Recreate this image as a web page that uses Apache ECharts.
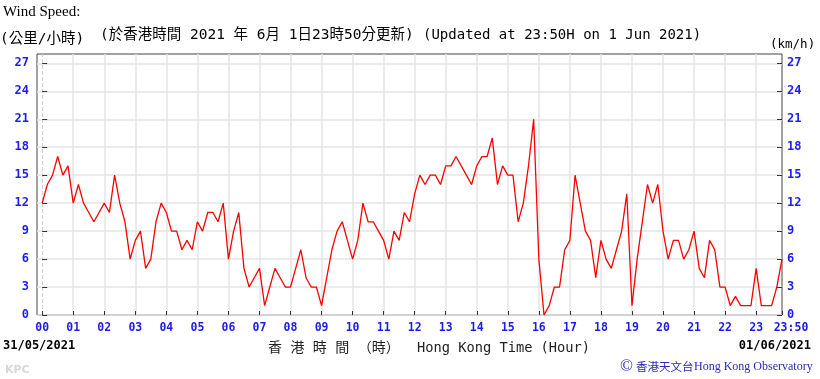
<!DOCTYPE html>
<html><head><meta charset="utf-8">
<script src="https://cdn.jsdelivr.net/npm/echarts@6/dist/echarts.min.js"></script>
<style>html,body{margin:0;padding:0;background:#fff}#c{width:820px;height:379px}</style>
</head><body><div id="c"></div>
<script>
// time of each reading, minutes after 00:00 HKT on 31/05/2021
const times = [
  0,10,20,30,40,50,60,70,80,90,100,110,120,130,140,150,160,170,180,190,200,210,220,230,
  240,250,260,270,280,290,300,310,320,330,340,350,360,370,380,390,400,410,420,430,440,450,460,470,
  480,490,500,510,520,530,540,550,560,570,580,590,600,610,620,630,640,650,660,670,680,690,700,710,
  720,730,740,750,760,770,780,790,800,810,820,830,840,850,860,870,880,890,900,910,920,930,940,950,
  960,970,980,990,1000,1010,1020,1030,1040,1050,1060,1070,1080,1090,1100,1110,1120,1130,1140,1150,1160,1170,1180,1190,
  1200,1210,1220,1230,1240,1250,1260,1270,1280,1290,1300,1310,1320,1330,1340,1350,1360,1370,1380,1390,1400,1410,1420,1430
];
// wind speed (km/h)
const speeds = [
  12,14,15,17,15,16,12,14,12,11,10,11,12,11,15,12,10,6,8,9,5,6,10,12,
  11,9,9,7,8,7,10,9,11,11,10,12,6,9,11,5,3,4,5,1,3,5,4,3,
  3,5,7,4,3,3,1,4,7,9,10,8,6,8,12,10,10,9,8,6,9,8,11,10,
  13,15,14,15,15,14,16,16,17,16,15,14,16,17,17,19,14,16,15,15,10,12,16,21,
  6,0,1,3,3,7,8,15,12,9,8,4,8,6,5,7,9,13,1,6,10,14,12,14,
  9,6,8,8,6,7,9,5,4,8,7,3,3,1,2,1,1,1,5,1,1,1,3,6
];
// x-axis tick positions (minutes) and labels
const xTickValues = [0,60,120,180,240,300,360,420,480,540,600,660,720,780,840,900,960,1020,1080,1140,1200,1260,1320,1380,1430];
const xTickLabels = ['00','01','02','03','04','05','06','07','08','09','10','11','12','13','14','15','16','17','18','19','20','21','22','23','23:50'];
// y-axis ticks
const yTickValues = [0,3,6,9,12,15,18,21,24,27];

const BLUE = '#1c1cf0';
const GRID = '#e4e4e4';
const MONO = '"DejaVu Sans Mono", "Noto Sans CJK TC", monospace';
const chart = echarts.init(document.getElementById('c'), null, {renderer:'canvas'});

const xLabelMap = {};
xTickValues.forEach((v,i)=>{ xLabelMap[v] = xTickLabels[i]; });
// vertical grid lines at the hour ticks: dashed at 00, solid elsewhere (last one sits on the frame)
const vGrid = xTickValues.slice(1, -1).map(v => ({xAxis:v}));

const yAxisBase = (pos, margin, split) => ({
  type:'value', position:pos, min:0, max:28,
  axisLine:{show:false},
  axisTick:{show:true, inside:true, length:5, customValues:yTickValues, lineStyle:{color:'#333', width:1}},
  axisLabel:{customValues:yTickValues, color:BLUE, fontWeight:'bold', fontFamily:MONO, fontSize:12, margin:margin},
  splitLine:{show:split, lineStyle:{color:GRID, width:1.5}}
});

chart.setOption({
  animation:false,
  grid:{left:37, right:38, top:54, bottom:64, show:true, borderColor:'#444', borderWidth:1, backgroundColor:'transparent'},
  xAxis:{
    type:'value', min:-10, max:1430, position:'bottom',
    axisLine:{show:false},
    axisTick:{show:true, inside:true, length:4, customValues:xTickValues, lineStyle:{color:'#333', width:1}},
    axisLabel:{
      customValues:xTickValues, color:BLUE, fontWeight:'bold', fontFamily:MONO, fontSize:11.5, margin:7,
      formatter:(v)=> v===1430 ? '{e|'+xLabelMap[v]+'}' : xLabelMap[v],
      rich:{e:{color:BLUE, fontWeight:'bold', fontFamily:MONO, fontSize:11.5, padding:[0,0,0,18]}}
    },
    splitLine:{show:false}
  },
  yAxis:[ yAxisBase('left', 8, true), yAxisBase('right', 5, false) ],
  series:[
    {
      type:'line', z:0, data:[], silent:true,
      markLine:{z:0, silent:true, symbol:'none', label:{show:false}, animation:false,
        lineStyle:{color:GRID, type:'solid', width:1.5}, data:vGrid}
    },
    {
      type:'line', z:0, data:[], silent:true,
      markLine:{z:0, silent:true, symbol:'none', label:{show:false}, animation:false,
        lineStyle:{color:'#cfcfcf', type:'dashed', width:1}, data:[{xAxis:xTickValues[0]}]}
    },
    {
      type:'line', z:10,
      data: times.map((t,i)=>[t, speeds[i]]),
      showSymbol:false, symbol:'none',
      lineStyle:{color:'#ff0000', width:1.3}
    }
  ],
  graphic:[
    {type:'text', style:{x:3, y:12, text:'Wind Speed:', fontSize:15, fontFamily:'"Liberation Serif", serif', fill:'#000', verticalAlign:'middle'}},
    {type:'text', style:{x:0, y:39, text:'(公里/小時)', fontSize:14.5, fontFamily:MONO, fill:'#000', verticalAlign:'middle'}},
    {type:'text', style:{x:100, y:35, text:'(於香港時間 2021 年 6月 1日23時50分更新)', fontSize:14.5, fontFamily:MONO, fill:'#000', verticalAlign:'middle'}},
    {type:'text', style:{x:423, y:35, text:'(Updated at 23:50H on 1 Jun 2021)', fontSize:14, fontFamily:MONO, fill:'#000', verticalAlign:'middle'}},
    {type:'text', style:{x:770, y:45, text:'(km/h)', fontSize:12.5, fontFamily:MONO, fill:'#000', verticalAlign:'middle'}},
    {type:'text', style:{x:3, y:346, text:'31/05/2021', fontSize:12, fontWeight:'bold', fontFamily:MONO, fill:'#000', verticalAlign:'middle'}},
    {type:'text', style:{x:811, y:346, text:'01/06/2021', fontSize:12, fontWeight:'bold', fontFamily:MONO, fill:'#000', align:'right', verticalAlign:'middle'}},
    {type:'text', style:{x:268, y:348, text:'香 港 時 間 （時）', fontSize:14, fontFamily:MONO, fill:'#222', verticalAlign:'middle'}},
    {type:'text', style:{x:417, y:348, text:'Hong Kong Time (Hour)', fontSize:13.7, fontFamily:MONO, fill:'#222', verticalAlign:'middle'}},
    {type:'text', style:{x:620, y:367, text:'©', fontSize:17, fontFamily:'"Liberation Serif", serif', fill:'#2a2ab8', verticalAlign:'middle'}},
    {type:'text', style:{x:636, y:367, text:'香港天文台', fontSize:11.5, fontFamily:'"Noto Sans CJK TC", sans-serif', fill:'#2a2ab8', verticalAlign:'middle'}},
    {type:'text', style:{x:694, y:367, text:'Hong Kong Observatory', fontSize:12, fontFamily:'"Liberation Serif", serif', fill:'#2a2ab8', verticalAlign:'middle'}},
    {type:'text', style:{x:5, y:370, text:'KPC', fontSize:11, fontWeight:'bold', fontFamily:'"DejaVu Sans", sans-serif', fill:'#d8d8d8', verticalAlign:'middle'}}
  ]
});
</script>
</body></html>
